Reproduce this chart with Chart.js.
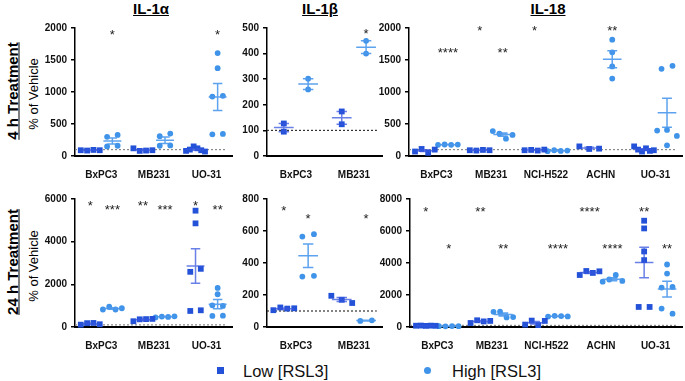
<!DOCTYPE html>
<html lang="en">
<head>
  <meta charset="UTF-8">
  <title>IL-1α / IL-1β / IL-18 release after RSL3</title>
  <script src="https://cdn.jsdelivr.net/npm/chart.js"></script>
  <style>
    body {
      margin: 0;
      background: #fff;
      font-family: "Liberation Sans", Arial, sans-serif;
    }
    #fig {
      position: relative;
      width: 685px;
      height: 381px;
      overflow: hidden;
    }
    #fig canvas, .lbl {
      position: absolute;
    }
    .title {
      font-size: 15px;
      font-weight: bold;
      text-decoration: underline;
      line-height: 15px;
      transform: translateX(-50%);
      white-space: nowrap;
      color: #000;
    }
    .rot {
      transform: translate(-50%, -50%) rotate(-90deg);
      white-space: nowrap;
      color: #000;
    }
    .treat {
      font-size: 15px;
      font-weight: bold;
      text-decoration: underline;
    }
    .ylab {
      font-size: 13px;
    }
    .legtxt {
      font-size: 16.5px;
      line-height: 18px;
      color: #111;
    }
  </style>
</head>
<body>
  <div id="fig">
    <div class="lbl title" style="left:151px; top:1px;">IL-1α</div>
    <div class="lbl title" style="left:320px; top:1px;">IL-1β</div>
    <div class="lbl title" style="left:548px; top:1px;">IL-18</div>

    <div class="lbl rot treat" style="left:12px; top:91px;">4 h Treatment</div>
    <div class="lbl rot treat" style="left:12px; top:262px;">24 h Treatment</div>
    <div class="lbl rot ylab" style="left:33px; top:94px;">% of Vehicle</div>
    <div class="lbl rot ylab" style="left:33px; top:266px;">% of Vehicle</div>

    <div class="lbl" style="left:217px; top:367px; width:7px; height:7px; background:#2352d8;"></div>
    <div class="lbl legtxt" style="left:243px; top:362px;">Low [RSL3]</div>
    <div class="lbl" style="left:424px; top:367px; width:7px; height:7px; border-radius:50%; background:#3f93e8;"></div>
    <div class="lbl legtxt" style="left:452px; top:362px;">High [RSL3]</div>

    <canvas id="c1"></canvas>
    <canvas id="c2"></canvas>
    <canvas id="c3"></canvas>
    <canvas id="c4"></canvas>
    <canvas id="c5"></canvas>
    <canvas id="c6"></canvas>
  </div>

  <script>
    // ---- data (% of vehicle) ----
    // IL-1α, 4 h
    const il1a4Cats = ['BxPC3', 'MB231', 'UO-31'];
    const il1a4Low = [[90, 85, 95, 90], [120, 80, 85, 90], [80, 100, 150, 120, 90, 70]];
    const il1a4High = [[300, 330, 150, 160], [310, 350, 160, 165], [1608, 1373, 929, 940, 339, 345]];
    const il1a4SigLow = ['', '', ''];
    const il1a4SigHigh = ['*', '', '*'];
    const il1a4Ticks = [0, 500, 1000, 1500, 2000];

    // IL-1β, 4 h
    const il1b4Cats = ['BxPC3', 'MB231'];
    const il1b4Low = [[127, 95], [174, 124]];
    const il1b4High = [[302, 260], [450, 400]];
    const il1b4SigLow = ['', ''];
    const il1b4SigHigh = ['', '*'];
    const il1b4Ticks = [0, 100, 200, 300, 400, 500];

    // IL-18, 4 h
    const il184Cats = ['BxPC3', 'MB231', 'NCI-H522', 'ACHN', 'UO-31'];
    const il184Low = [[70, 110, 50, 100], [90, 85, 95, 90], [90, 95, 85, 100], [150, 110, 115], [150, 100, 70, 120, 80, 90]];
    const il184High = [[175, 180, 175, 178], [390, 350, 270, 330], [75, 90, 80, 85], [1817, 1620, 1400, 1210], [1362, 1409, 397, 407, 313, 167]];
    const il184SigLow = ['', '*', '*', '', ''];
    const il184SigHigh = ['****', '**', '', '**', ''];
    const il184Ticks = [0, 500, 1000, 1500, 2000];

    // IL-1α, 24 h
    const il1a24Cats = ['BxPC3', 'MB231', 'UO-31'];
    const il1a24Low = [[110, 180, 190, 130], [270, 360, 370, 380], [5453, 4858, 2586, 2727, 752, 783]];
    const il1a24High = [[820, 950, 820, 880], [450, 490, 470, 500], [1833, 1536, 1018, 987, 517, 533]];
    const il1a24SigLow = ['*', '**', '*'];
    const il1a24SigHigh = ['***', '***', '**'];
    const il1a24Ticks = [0, 2000, 4000, 6000];

    // IL-1β, 24 h
    const il1b24Cats = ['BxPC3', 'MB231'];
    const il1b24Low = [[105, 122, 115, 117], [195, 170, 150]];
    const il1b24High = [[565, 580, 315, 320], [38, 42]];
    const il1b24SigLow = ['*', ''];
    const il1b24SigHigh = ['*', '*'];
    const il1b24Ticks = [0, 200, 400, 600, 800];

    // IL-18, 24 h
    const il1824Cats = ['BxPC3', 'MB231', 'NCI-H522', 'ACHN', 'UO-31'];
    const il1824Low = [[80, 90, 70, 85, 75], [250, 420, 350, 380], [150, 400, 120, 380], [3250, 3500, 3380, 3480], [6643, 6162, 4721, 4178, 1253, 1253]];
    const il1824High = [[50, 45, 55, 50], [950, 960, 600, 620], [650, 700, 680, 660], [2830, 2970, 3250, 2880], [3906, 3342, 2465, 2507, 1149, 835]];
    const il1824SigLow = ['*', '**', '', '****', '**'];
    const il1824SigHigh = ['*', '**', '****', '****', '**'];
    const il1824Ticks = [0, 2000, 4000, 6000, 8000];

    // ---- styling ----
    const LOW = '#2352d8';
    const HIGH = '#3f93e8';
    const LOW_ERR = 'rgba(55, 85, 222, 0.75)';
    const HIGH_ERR = 'rgba(75, 152, 236, 0.9)';
    const GROUP_OFF = 0.21;
    const PAD_L = 45, PAD_B = 24, PAD_T = 12, PAD_R = 4;
    Chart.defaults.font.family = '"Liberation Sans", Arial, sans-serif';

    const panels = [
      { id: 'c1', cats: il1a4Cats, low: il1a4Low, high: il1a4High, sigLow: il1a4SigLow, sigHigh: il1a4SigHigh, ticks: il1a4Ticks,
        box: { left: 75, right: 233, top: 28, bottom: 156 }, starLow: 0.97, starHigh: 0.97, refColor: '#8a8a8a' },
      { id: 'c2', cats: il1b4Cats, low: il1b4Low, high: il1b4High, sigLow: il1b4SigLow, sigHigh: il1b4SigHigh, ticks: il1b4Ticks,
        box: { left: 267, right: 383, top: 28, bottom: 156 }, starLow: 0.98, starHigh: 0.98, refColor: '#333' },
      { id: 'c3', cats: il184Cats, low: il184Low, high: il184High, sigLow: il184SigLow, sigHigh: il184SigHigh, ticks: il184Ticks,
        box: { left: 409, right: 683, top: 28, bottom: 156 }, starLow: 1.0, starHigh: [0.835, 0.835, 0, 1.0, 0], refColor: '#8a8a8a' },
      { id: 'c4', cats: il1a24Cats, low: il1a24Low, high: il1a24High, sigLow: il1a24SigLow, sigHigh: il1a24SigHigh, ticks: il1a24Ticks,
        box: { left: 75, right: 233, top: 199, bottom: 327 }, starLow: 0.975, starHigh: 0.94, refColor: '#8a8a8a' },
      { id: 'c5', cats: il1b24Cats, low: il1b24Low, high: il1b24High, sigLow: il1b24SigLow, sigHigh: il1b24SigHigh, ticks: il1b24Ticks,
        box: { left: 267, right: 383, top: 199, bottom: 327 }, starLow: 0.935, starHigh: 0.87, refColor: '#333' },
      { id: 'c6', cats: il1824Cats, low: il1824Low, high: il1824High, sigLow: il1824SigLow, sigHigh: il1824SigHigh, ticks: il1824Ticks,
        box: { left: 410, right: 683, top: 199, bottom: 327 }, starLow: 0.927, starHigh: 0.635, refColor: '#8a8a8a' }
    ];

    // spread points of a group sideways where they would overlap (symmetric per cluster)
    function offsets(vals, max) {
      const order = vals.map((v, i) => i).sort((a, b) => vals[a] - vals[b]);
      const clusters = [];
      let cur = [order[0]];
      for (let k = 1; k < order.length; k++) {
        if (vals[order[k]] - vals[order[k - 1]] < 0.045 * max) cur.push(order[k]);
        else { clusters.push(cur); cur = [order[k]]; }
      }
      clusters.push(cur);
      const off = new Array(vals.length).fill(0);
      clusters.forEach(c => {
        c.sort((a, b) => a - b);
        const k = c.length;
        if (k < 2) return;
        const step = Math.min(0.2, 0.36 / (k - 1));
        c.forEach((idx, j) => { off[idx] = (j - (k - 1) / 2) * step; });
      });
      return off;
    }

    function toPoints(groups, sign, max) {
      const pts = [];
      groups.forEach((vals, i) => {
        const off = offsets(vals, max);
        vals.forEach((v, j) => pts.push({ x: i + 1 + sign * GROUP_OFF + off[j], y: v }));
      });
      return pts;
    }

    function meanSem(vals) {
      const n = vals.length;
      const m = vals.reduce((a, b) => a + b, 0) / n;
      const sd = Math.sqrt(vals.reduce((a, v) => a + (v - m) * (v - m), 0) / (n - 1));
      return { m, sem: sd / Math.sqrt(n) };
    }

    const decor = {
      id: 'decor',
      beforeDatasetsDraw(chart, args, p) {
        const { ctx, chartArea, scales } = chart;
        const y = scales.y.getPixelForValue(100);
        ctx.save();
        ctx.strokeStyle = p.refColor;
        ctx.lineWidth = 1.2;
        ctx.setLineDash([2, 2]);
        ctx.beginPath();
        ctx.moveTo(chartArea.left, y);
        ctx.lineTo(chartArea.right - 6, y);
        ctx.stroke();
        ctx.restore();
      },
      afterDatasetsDraw(chart, args, p) {
        const { ctx, scales } = chart;
        const xs = scales.x, ys = scales.y;
        const max = p.ticks[p.ticks.length - 1];
        ctx.save();
        ctx.lineWidth = 1.5;
        [[p.low, -1, LOW_ERR], [p.high, 1, HIGH_ERR]].forEach(([groups, sign, col]) => {
          groups.forEach((vals, i) => {
            const c = i + 1 + sign * GROUP_OFF;
            const { m, sem } = meanSem(vals);
            const xm0 = xs.getPixelForValue(c - 0.17), xm1 = xs.getPixelForValue(c + 0.17);
            const xc0 = xs.getPixelForValue(c - 0.09), xc1 = xs.getPixelForValue(c + 0.09);
            const xc = xs.getPixelForValue(c);
            const ym = ys.getPixelForValue(m), yt = ys.getPixelForValue(m + sem), yb = ys.getPixelForValue(Math.max(m - sem, 0));
            ctx.strokeStyle = col;
            ctx.beginPath();
            ctx.moveTo(xm0, ym); ctx.lineTo(xm1, ym);
            ctx.moveTo(xc, yt); ctx.lineTo(xc, yb);
            ctx.moveTo(xc0, yt); ctx.lineTo(xc1, yt);
            ctx.moveTo(xc0, yb); ctx.lineTo(xc1, yb);
            ctx.stroke();
          });
        });
        // significance stars
        ctx.fillStyle = '#222';
        ctx.font = '13px "Liberation Sans", Arial, sans-serif';
        ctx.textAlign = 'center';
        ctx.textBaseline = 'alphabetic';
        [[p.sigLow, -1, p.starLow], [p.sigHigh, 1, p.starHigh]].forEach(([sig, sign, lvl]) => {
          sig.forEach((s, i) => {
            if (!s) return;
            const f = Array.isArray(lvl) ? lvl[i] : lvl;
            const x = xs.getPixelForValue(i + 1 + sign * GROUP_OFF);
            const y = ys.getPixelForValue(f * max);
            ctx.fillText(s, x, y + 7.4);
          });
        });
        ctx.restore();
      }
    };

    panels.forEach(p => {
      const cv = document.getElementById(p.id);
      const w = p.box.right - p.box.left + PAD_L + PAD_R;
      const h = p.box.bottom - p.box.top + PAD_T + PAD_B;
      cv.width = w; cv.height = h;
      cv.style.left = (p.box.left - PAD_L) + 'px';
      cv.style.top = (p.box.top - PAD_T) + 'px';
      const max = p.ticks[p.ticks.length - 1];

      new Chart(cv, {
        type: 'scatter',
        data: {
          datasets: [
            { label: 'Low [RSL3]', data: toPoints(p.low, -1, max), pointStyle: 'rect', pointRadius: 4.1,
              backgroundColor: LOW, borderColor: LOW, borderWidth: 0, clip: false },
            { label: 'High [RSL3]', data: toPoints(p.high, 1, max), pointStyle: 'circle', pointRadius: 2.9,
              backgroundColor: HIGH, borderColor: HIGH, borderWidth: 0, clip: false }
          ]
        },
        options: {
          responsive: false,
          animation: false,
          devicePixelRatio: 1,
          layout: { padding: { top: PAD_T, right: PAD_R, left: 0, bottom: 0 } },
          plugins: {
            legend: { display: false },
            tooltip: { enabled: false },
            decor: p
          },
          scales: {
            x: {
              type: 'linear',
              min: 0.5,
              max: p.cats.length + 0.5,
              afterBuildTicks: s => { s.ticks = p.cats.map((c, i) => ({ value: i + 1 })); },
              afterFit: s => { s.height = PAD_B; },
              grid: { display: false },
              border: { color: '#000', width: 2 },
              ticks: {
                padding: 5,
                color: '#111',
                font: { size: 10, weight: 'bold' },
                maxRotation: 0,
                autoSkip: false,
                callback: v => p.cats[Math.round(v) - 1]
              }
            },
            y: {
              min: 0,
              max: max,
              afterBuildTicks: s => { s.ticks = p.ticks.map(v => ({ value: v })); },
              afterFit: s => { s.width = PAD_L; },
              grid: { drawOnChartArea: false, drawTicks: true, tickLength: 4, color: '#000', lineWidth: 1.5 },
              border: { color: '#000', width: 1.5 },
              ticks: {
                padding: 4,
                color: '#111',
                font: { size: 10, weight: 'bold' },
                callback: v => String(v)
              }
            }
          }
        },
        plugins: [decor]
      });
    });
  </script>
</body>
</html>
